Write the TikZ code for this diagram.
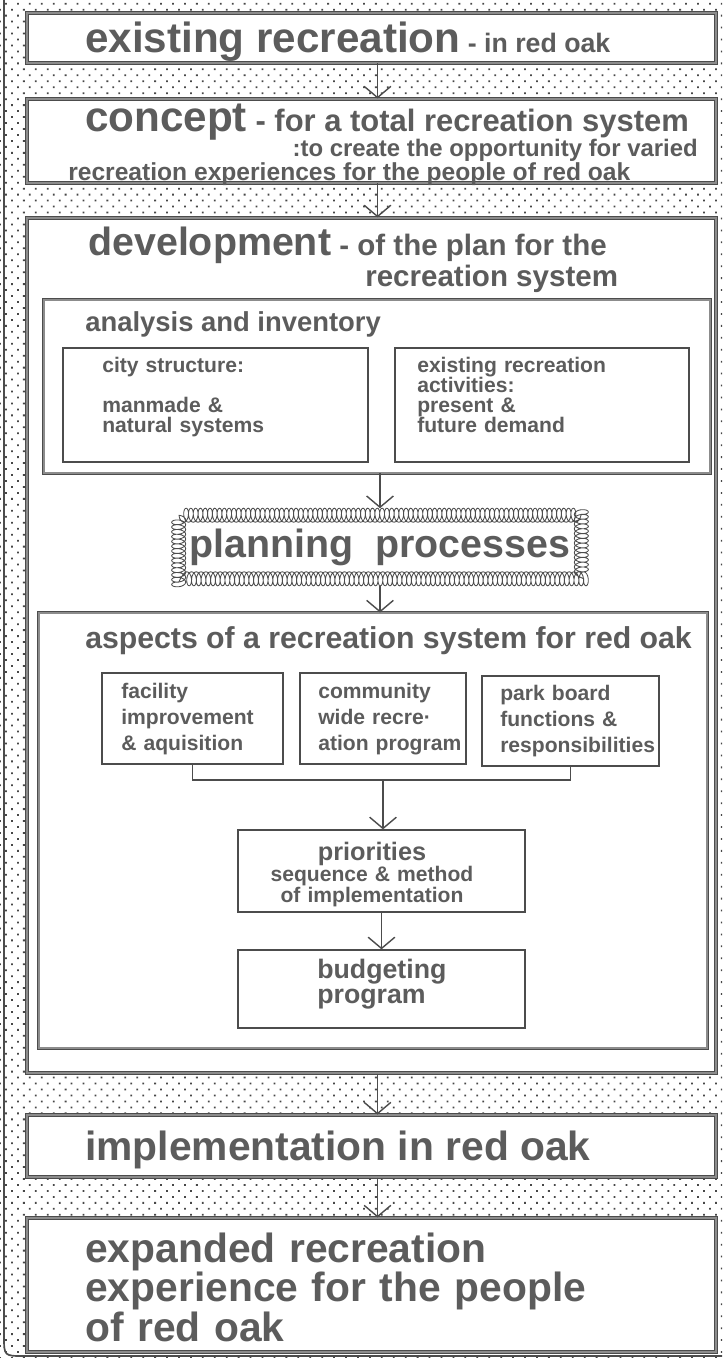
\documentclass[tikz,border=0pt]{standalone}
\usepackage{fontspec}
\setmainfont{Liberation Sans}
\usetikzlibrary{arrows.meta,patterns.meta,decorations.pathmorphing}
\definecolor{ink}{gray}{0.36}
\definecolor{rule}{gray}{0.30}
\definecolor{rulefill}{gray}{0.55}
\definecolor{dotc}{gray}{0.28}
\newcommand{\tightlines}{\lineskiplimit-20pt\relax}

\begin{document}
\begin{tikzpicture}[x=0.025cm,y=-0.025cm,
    every node/.style={inner sep=0pt,text=ink},
    frame/.style={draw=rule,fill=white,line width=0.7pt,double=rulefill,double distance=1.5pt},
    inbox/.style={draw=rule,fill=white,line width=0.6pt,double=rulefill,double distance=0.9pt},
    sbox/.style={draw=rule,line width=0.9pt},
    link/.style={draw=rule,line width=0.8pt},
    arr/.style={link,-{Straight Barb[length=8pt,width=19pt,line width=1pt]}},
    txt/.style={anchor=base west},
    block/.style={anchor=base west,text width=#1,align=left}]
  \useasboundingbox (0,0) rectangle (722,1358);
  \path[pattern={Dots[distance=6pt,radius=0.9pt,angle=45]},pattern color=dotc] (0,0) rectangle (722,1358);
  \draw[rule,line width=1.2pt] (4,0) -- (4,1336) .. controls (4,1356) .. (24,1356) -- (722,1356);

  \node[frame,minimum width=17.225cm,minimum height=1.25cm] (exist) at (371.5,38) {};
  \node[frame,minimum width=17.225cm,minimum height=2.1cm] (concept) at (371.5,141) {};
  \node[frame,minimum width=17.225cm,minimum height=21.375cm] (dev) at (371.5,645.5) {};
  \node[inbox,minimum width=16.65cm,minimum height=4.325cm] (analysis) at (377,386.5) {};
  \node[sbox,minimum width=7.625cm,minimum height=2.85cm] (city) at (215.5,405) {};
  \node[sbox,minimum width=7.35cm,minimum height=2.85cm] (exrec) at (542,405) {};
  \node[minimum width=10.05cm,minimum height=1.575cm,font=\bfseries\fontsize{28}{28}\selectfont] (plan) at (380,547) {planning\ \ processes};
  \draw[rule,line width=0.6pt,decorate,decoration={coil,amplitude=5pt,segment length=3.4pt}] (plan.north west) rectangle (plan.south east);
  \node[inbox,minimum width=16.7cm,minimum height=10.875cm] (aspects) at (373,830.5) {};
  \node[sbox,minimum width=4.525cm,minimum height=2.275cm] (facility) at (192.5,718.5) {};
  \node[sbox,minimum width=4.15cm,minimum height=2.275cm] (community) at (383,718.5) {};
  \node[sbox,minimum width=4.425cm,minimum height=2.25cm] (park) at (570.5,721) {};
  \node[sbox,minimum width=7.175cm,minimum height=2.05cm] (prior) at (381.5,871) {};
  \node[sbox,minimum width=7.175cm,minimum height=1.95cm] (budget) at (381.5,989) {};
  \node[frame,minimum width=17.225cm,minimum height=1.55cm] (impl) at (371.5,1146) {};
  \node[frame,minimum width=17.225cm,minimum height=3.35cm] (expand) at (371.5,1285) {};

  \node[txt,font=\bfseries\fontsize{30}{30}\selectfont] (existT) at (85,53) {existing recreation{\fontsize{19}{19}\selectfont\ - in red oak}};
  \node[txt,font=\bfseries\fontsize{30}{30}\selectfont] (conceptA) at (85,132) {concept{\fontsize{22}{22}\selectfont\ - for a total recreation system}};
  \node[anchor=base east,font=\bfseries\fontsize{17}{17}\selectfont] (conceptB) at (698,157) {:to create the opportunity for varied};
  \node[txt,font=\bfseries\fontsize{17.5}{17.5}\selectfont] (conceptC) at (68,181) {recreation experiences for the people of red oak};
  \node[txt,font=\bfseries\fontsize{28}{28}\selectfont] (devA) at (88,256) {development{\fontsize{21}{21}\selectfont\ - of the plan for the}};
  \node[txt,font=\bfseries\fontsize{21}{21}\selectfont] (devB) at (365,287) {recreation system};
  \node[txt,font=\bfseries\fontsize{19.5}{19.5}\selectfont] (analysisT) at (85,332) {analysis and inventory};
  \node[block=7cm,font=\bfseries\fontsize{15}{14.2}\selectfont\tightlines] (cityT) at (102,373) {city structure:\\[14.2pt]manmade \&\\natural systems};
  \node[block=7cm,font=\bfseries\fontsize{15}{14.2}\selectfont\tightlines] (exrecT) at (417,373) {existing recreation\\activities:\\present \&\\future demand};
  \node[txt,font=\bfseries\fontsize{21.5}{21.5}\selectfont] (aspectsT) at (85,648) {aspects of a recreation system for red oak};
  \node[block=4cm,font=\bfseries\fontsize{15}{18.5}\selectfont] (facilityT) at (121,698) {facility\\improvement\\\& aquisition};
  \node[block=4cm,font=\bfseries\fontsize{15}{18.5}\selectfont] (communityT) at (318,698) {community\\wide recre·\\ation program};
  \node[block=4cm,font=\bfseries\fontsize{15}{18.5}\selectfont] (parkT) at (500,700) {park board\\functions \&\\responsibilities};
  \node[anchor=base,text width=7cm,align=center,font=\bfseries\fontsize{15}{15}\selectfont\tightlines] (priorT) at (372,860) {{\fontsize{18}{15}\selectfont priorities}\\sequence \& method\\of implementation};
  \node[block=6cm,font=\bfseries\fontsize{19}{17.8}\selectfont] (budgetT) at (317,978) {budgeting\\program};
  \node[txt,font=\bfseries\fontsize{29}{29}\selectfont] (implT) at (85,1160) {implementation in red oak};
  \node[block=16cm,font=\bfseries\fontsize{29}{28.4}\selectfont\tightlines] (expandT) at (85,1262) {expanded recreation\\experience for the people\\of red oak};

  \draw[arr] ([xshift=0.15cm]exist.south) -- ([xshift=0.15cm]concept.north);
  \draw[arr] ([xshift=0.15cm]concept.south) -- ([xshift=0.15cm]dev.north);
  \draw[arr] (analysis.south -| plan) -- ([yshift=5pt]plan.north);
  \draw[arr] ([yshift=-5pt]plan.south) -- (plan.south |- aspects.north);
  \coordinate (join) at (383,780);
  \draw[link] (facility.south) |- (join) -| (park.south);
  \draw[arr] (join) -- (join |- prior.north);
  \draw[arr] (prior) -- (budget);
  \draw[arr] ([xshift=0.15cm]dev.south) -- ([xshift=0.15cm]impl.north);
  \draw[arr] ([xshift=0.15cm]impl.south) -- ([xshift=0.15cm]expand.north);
\end{tikzpicture}
\end{document}
